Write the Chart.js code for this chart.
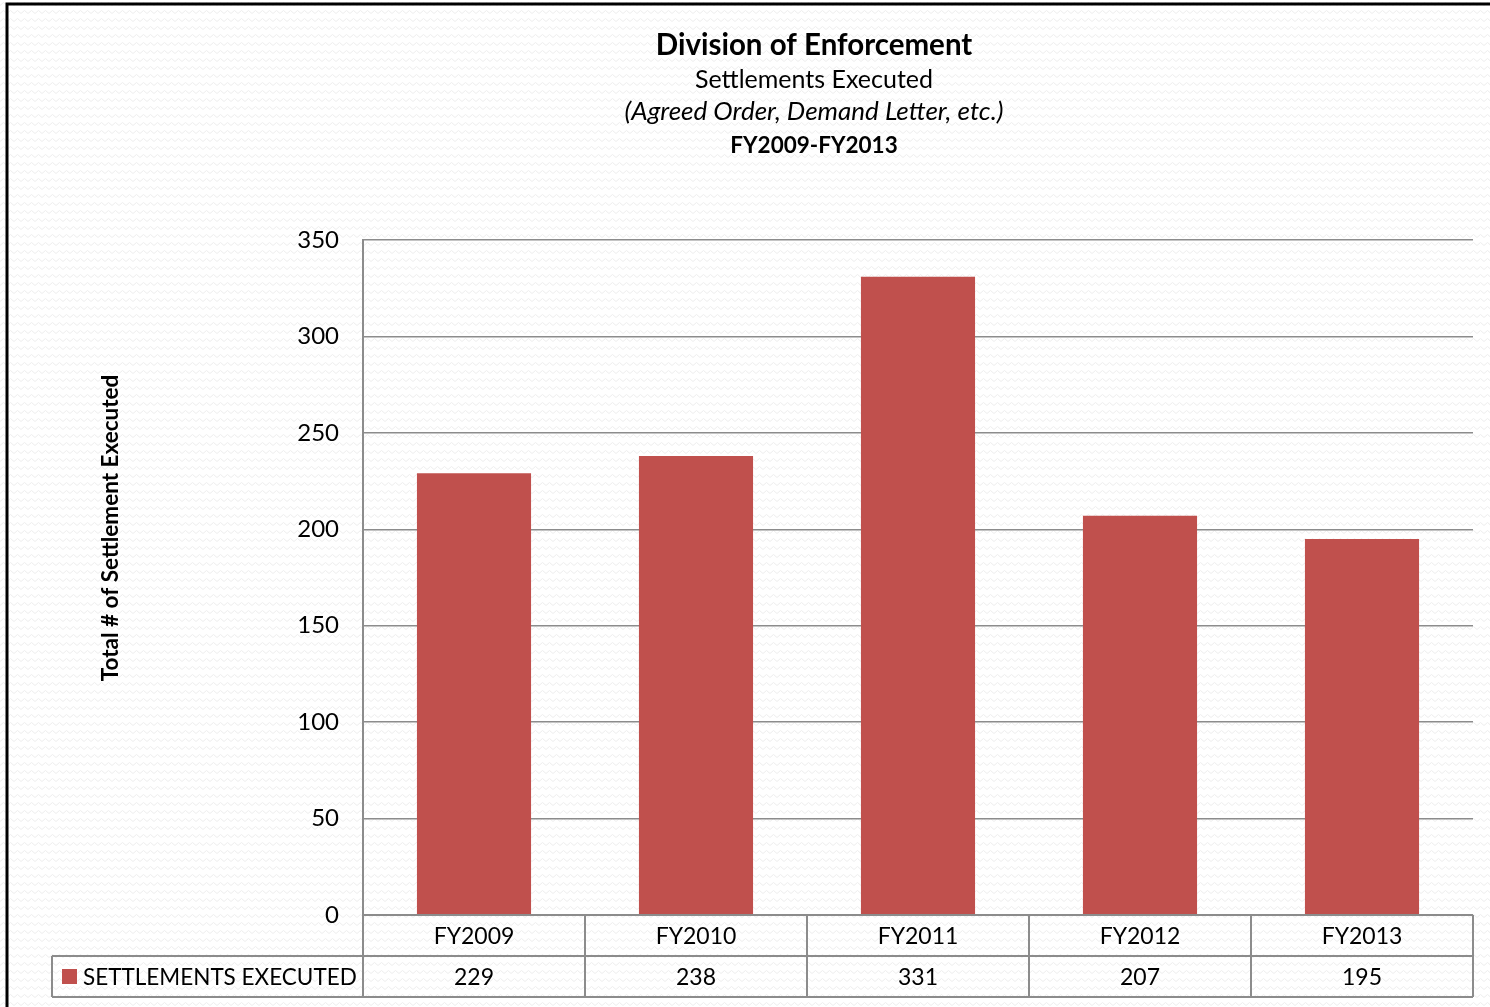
<!DOCTYPE html>
<html>
<head>
<meta charset="utf-8">
<script src="https://cdn.jsdelivr.net/npm/chart.js@4.4.1/dist/chart.umd.min.js"></script>
<style>
  body { margin: 0; background: #fff; }
  #wrap { width: 1490px; height: 1007px; }
</style>
</head>
<body>
<div id="wrap"><canvas id="chart" width="1490" height="1007"></canvas></div>
<script>
// === data ===
const categories = ['FY2009', 'FY2010', 'FY2011', 'FY2012', 'FY2013'];
const settlements = [229, 238, 331, 207, 195];
const seriesName = 'SETTLEMENTS EXECUTED';
const titleLines = ['Division of Enforcement', 'Settlements Executed', '(Agreed Order, Demand Letter, etc.)', 'FY2009-FY2013'];
const yTitle = 'Total # of Settlement Executed';

const FONT = 'Lato, "Open Sans", sans-serif';
const BAR_RED = '#c0504d';
const GRID = '#8c8c8c';

// zigzag background like the excel chart fill
function makePattern(ctx) {
    const c = document.createElement('canvas');
    c.width = 7; c.height = 8;
    const p = c.getContext('2d');
    p.fillStyle = '#ffffff';
    p.fillRect(0, 0, 7, 8);
    p.strokeStyle = '#eeeeee';
    p.lineWidth = 1;
    p.beginPath();
    p.moveTo(0, 5.5); p.lineTo(3.5, 2.5); p.lineTo(7, 5.5);
    p.stroke();
    return ctx.createPattern(c, 'repeat');
}

const decor = {
    id: 'decor',
    beforeDraw(chart) {
        const ctx = chart.ctx;
        ctx.save();
        ctx.fillStyle = makePattern(ctx);
        ctx.fillRect(0, 0, chart.width, chart.height);
        // outer frame
        ctx.strokeStyle = '#000';
        ctx.lineWidth = 3;
        ctx.strokeRect(7, 4, chart.width + 20, chart.height + 20);
        ctx.restore();
    },
    afterDraw(chart) {
        const ctx = chart.ctx;
        const area = chart.chartArea;
        const xs = chart.scales.x;
        ctx.save();

        // titles
        ctx.fillStyle = '#000';
        ctx.textAlign = 'center';
        ctx.textBaseline = 'middle';
        const cx = 814;
        ctx.font = 'bold 29.5px ' + FONT;
        ctx.fillText(titleLines[0], cx, 45);
        ctx.font = '25px ' + FONT;
        ctx.fillText(titleLines[1], cx, 80);
        ctx.font = 'italic 26px ' + FONT;
        ctx.fillText(titleLines[2], cx, 112);
        ctx.font = 'bold 22.5px ' + FONT;
        ctx.fillText(titleLines[3], cx, 146);

        // y axis title
        ctx.save();
        ctx.translate(111, 528);
        ctx.rotate(-Math.PI / 2);
        ctx.font = 'bold 22.5px ' + FONT;
        ctx.fillText(yTitle, 0, 0);
        ctx.restore();

        // data table
        const n = categories.length;
        const colW = (area.right - area.left) / n;
        const row1 = area.bottom, row2 = area.bottom + 41, row3 = area.bottom + 82;
        const legendLeft = 52;
        ctx.strokeStyle = GRID;
        ctx.lineWidth = 2;
        ctx.beginPath();
        ctx.moveTo(area.left, row1); ctx.lineTo(area.right, row1);
        ctx.moveTo(legendLeft, row2); ctx.lineTo(area.right, row2);
        ctx.moveTo(legendLeft, row3); ctx.lineTo(area.right, row3);
        ctx.moveTo(legendLeft, row2); ctx.lineTo(legendLeft, row3);
        for (let i = 0; i <= n; i++) {
            const x = area.left + i * colW;
            ctx.moveTo(x, row1); ctx.lineTo(x, row3);
        }
        ctx.stroke();

        ctx.fillStyle = '#000';
        ctx.font = '23px ' + FONT;
        categories.forEach((c, i) => {
            const x = xs.getPixelForValue(i);
            ctx.fillText(c, x, (row1 + row2) / 2 + 1);
            ctx.fillText(String(settlements[i]), x, (row2 + row3) / 2 + 1);
        });

        // legend key
        ctx.fillStyle = BAR_RED;
        ctx.fillRect(62, row2 + 13, 15, 15);
        ctx.fillStyle = '#000';
        ctx.textAlign = 'left';
        ctx.font = '22.5px ' + FONT;
        ctx.fillText(seriesName, 83, (row2 + row3) / 2 + 1);
        ctx.restore();
    }
};

new Chart(document.getElementById('chart'), {
    type: 'bar',
    data: {
        labels: categories,
        datasets: [{
            label: seriesName,
            data: settlements,
            backgroundColor: BAR_RED,
            borderWidth: 0,
            barPercentage: 1,
            categoryPercentage: 0.514
        }]
    },
    options: {
        responsive: false,
        animation: false,
        layout: { padding: { left: 0, top: 240, right: 17, bottom: 92 } },
        plugins: {
            legend: { display: false },
            tooltip: { enabled: false }
        },
        scales: {
            x: { display: false },
            y: {
                min: 0,
                max: 350,
                afterFit(scale) { scale.width = 363; },
                ticks: {
                    stepSize: 50,
                    color: '#000',
                    padding: 24,
                    font: { family: FONT, size: 24 }
                },
                grid: { color: GRID, lineWidth: 1.5, drawTicks: false },
                border: { display: true, color: GRID, width: 2 }
            }
        }
    },
    plugins: [decor]
});
</script>
</body>
</html>
